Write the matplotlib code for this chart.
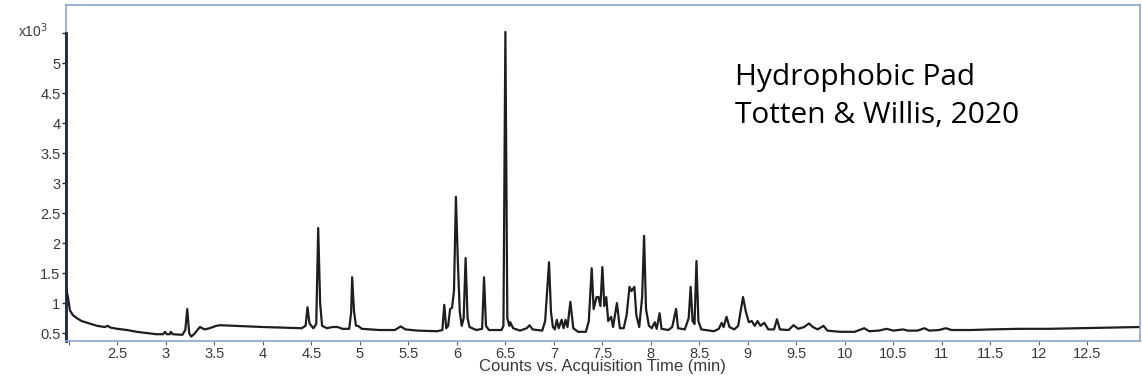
import matplotlib
matplotlib.use("Agg")
import matplotlib.pyplot as plt

# retention time (min) and abundance (x10^3 counts) along the trace
time = [1.97, 1.99, 2.01, 2.04, 2.08, 2.13, 2.19, 2.29, 2.37, 2.40, 2.43, 2.50,
        2.60, 2.70, 2.80, 2.90, 2.97, 2.99, 3.01, 3.04, 3.05, 3.07, 3.17, 3.20,
        3.22, 3.24, 3.26, 3.29, 3.35, 3.40, 3.45, 3.52, 3.56, 3.70, 3.85, 4.00,
        4.20, 4.40, 4.44, 4.46, 4.48, 4.52, 4.55, 4.57, 4.59, 4.61, 4.66, 4.72,
        4.77, 4.82, 4.89, 4.91, 4.92, 4.94, 4.96, 4.98, 5.02, 5.20, 5.36, 5.42,
        5.47, 5.60, 5.80, 5.85, 5.87, 5.89, 5.91, 5.93, 5.95, 5.97, 5.99, 6.01,
        6.03, 6.05, 6.07, 6.09, 6.11, 6.13, 6.20, 6.26, 6.28, 6.30, 6.33, 6.46,
        6.48, 6.50, 6.52, 6.54, 6.55, 6.58, 6.65, 6.72, 6.75, 6.78, 6.88, 6.91,
        6.93, 6.95, 6.97, 6.99, 7.01, 7.03, 7.05, 7.08, 7.10, 7.12, 7.14, 7.17,
        7.20, 7.25, 7.33, 7.36, 7.39, 7.41, 7.44, 7.46, 7.48, 7.50, 7.52, 7.54,
        7.56, 7.59, 7.61, 7.65, 7.68, 7.72, 7.75, 7.78, 7.80, 7.83, 7.85, 7.88,
        7.91, 7.93, 7.95, 7.98, 8.01, 8.04, 8.06, 8.09, 8.11, 8.18, 8.22, 8.26,
        8.28, 8.35, 8.39, 8.41, 8.43, 8.45, 8.47, 8.49, 8.52, 8.65, 8.70, 8.73,
        8.75, 8.78, 8.81, 8.86, 8.90, 8.95, 8.98, 9.01, 9.04, 9.07, 9.10, 9.13,
        9.17, 9.21, 9.27, 9.30, 9.33, 9.42, 9.47, 9.52, 9.58, 9.63, 9.67, 9.72,
        9.78, 9.82, 9.95, 10.10, 10.20, 10.25, 10.35, 10.43, 10.50, 10.60, 10.65,
        10.75, 10.82, 10.87, 10.97, 11.04, 11.10, 11.30, 11.50, 11.80, 12.10,
        12.40, 12.70, 13.04]
counts = [1.25, 1.10, 0.88, 0.80, 0.75, 0.70, 0.67, 0.62, 0.60, 0.62, 0.59, 0.57,
          0.55, 0.52, 0.50, 0.48, 0.48, 0.52, 0.48, 0.48, 0.52, 0.48, 0.47, 0.55,
          0.90, 0.50, 0.44, 0.48, 0.60, 0.56, 0.58, 0.62, 0.63, 0.62, 0.61, 0.60,
          0.59, 0.58, 0.62, 0.93, 0.66, 0.58, 0.65, 2.25, 1.00, 0.62, 0.58, 0.60,
          0.60, 0.57, 0.57, 0.85, 1.43, 0.85, 0.62, 0.62, 0.57, 0.55, 0.55, 0.61,
          0.56, 0.54, 0.53, 0.55, 0.97, 0.58, 0.62, 0.90, 0.92, 1.20, 2.77, 1.68,
          0.85, 0.62, 0.75, 1.75, 0.75, 0.60, 0.55, 0.57, 1.43, 0.62, 0.55, 0.55,
          0.62, 5.52, 0.75, 0.62, 0.68, 0.58, 0.54, 0.58, 0.63, 0.56, 0.54, 0.70,
          1.18, 1.68, 0.85, 0.60, 0.56, 0.72, 0.58, 0.72, 0.58, 0.72, 0.60, 1.02,
          0.58, 0.52, 0.52, 0.70, 1.58, 0.90, 1.10, 1.10, 0.95, 1.60, 0.95, 1.10,
          0.70, 0.77, 0.60, 1.00, 0.58, 0.58, 0.80, 1.27, 1.20, 1.27, 0.80, 0.60,
          1.10, 2.12, 0.90, 0.62, 0.58, 0.68, 0.57, 0.83, 0.57, 0.55, 0.60, 0.90,
          0.58, 0.56, 0.75, 1.27, 0.70, 0.65, 1.70, 0.70, 0.56, 0.53, 0.57, 0.67,
          0.60, 0.77, 0.60, 0.56, 0.62, 1.10, 0.85, 0.68, 0.70, 0.62, 0.70, 0.62,
          0.67, 0.56, 0.56, 0.73, 0.56, 0.55, 0.63, 0.57, 0.60, 0.66, 0.60, 0.56,
          0.62, 0.54, 0.52, 0.52, 0.58, 0.53, 0.54, 0.57, 0.54, 0.56, 0.54,
          0.54, 0.58, 0.54, 0.55, 0.58, 0.55, 0.55, 0.56, 0.57, 0.57,
          0.58, 0.59, 0.60]

xticks = [2.5, 3, 3.5, 4, 4.5, 5, 5.5, 6, 6.5, 7, 7.5, 8, 8.5, 9, 9.5, 10,
          10.5, 11, 11.5, 12, 12.5]
yticks = [0.5, 1, 1.5, 2, 2.5, 3, 3.5, 4, 4.5, 5, 5.5]
ytick_labels = ["0.5", "1", "1.5", "2", "2.5", "3", "3.5", "4", "4.5", "5", ""]

frame_col = "#8aa6cf"
axis_col = "#1c2738"
label_col = "#3a3a3a"

fig = plt.figure(figsize=(11.42, 3.85), dpi=100)
ax = fig.add_axes([0.0578, 0.1143, 0.9402, 0.8727])

ax.plot(time, counts, color="#1e1e1e", lw=1.6, solid_joinstyle="round")

ax.set_xlim(1.97, 13.04)
ax.set_ylim(0.367, 5.97)

ax.set_xticks(xticks)
ax.set_xticklabels([f"{v:g}" for v in xticks])
ax.set_xticks([2.0], minor=True)
ax.set_yticks(yticks)
ax.set_yticklabels(ytick_labels)
ax.tick_params(axis="x", which="both", length=3, width=0.8, color="#666666",
               pad=1, labelsize=10.5, labelcolor=label_col)
ax.tick_params(axis="y", length=3, width=1.0, color=axis_col, pad=1,
               labelsize=10.5, labelcolor=label_col)
for lab in ax.get_xticklabels() + ax.get_yticklabels():
    lab.set_family("Liberation Sans")

for side in ["top", "right", "bottom"]:
    ax.spines[side].set_color(frame_col)
    ax.spines[side].set_linewidth(1.2)
ax.spines["left"].set_color(axis_col)
ax.spines["left"].set_linewidth(2.0)
ax.spines["left"].set_bounds(0.367, 5.5)
# light frame edge on the left, behind the dark axis line
ax.plot([0, 0], [0, 1], transform=ax.transAxes, color=frame_col, lw=1.2,
        clip_on=False)

ax.set_xlabel("Counts vs. Acquisition Time (min)", fontsize=12,
              family="Liberation Sans", color=label_col, labelpad=-1)
fig.text(0.016, 0.905, r"x10$^{3}$", fontsize=10, family="Liberation Sans",
         color=label_col)

ax.text(0.623, 0.762, "Hydrophobic Pad", transform=ax.transAxes,
        fontsize=21.5, family="Open Sans", color="black", va="baseline")
ax.text(0.623, 0.649, "Totten & Willis, 2020", transform=ax.transAxes,
        fontsize=21.5, family="Open Sans", color="black", va="baseline")

fig.savefig("out.png", dpi=100, facecolor="white")
